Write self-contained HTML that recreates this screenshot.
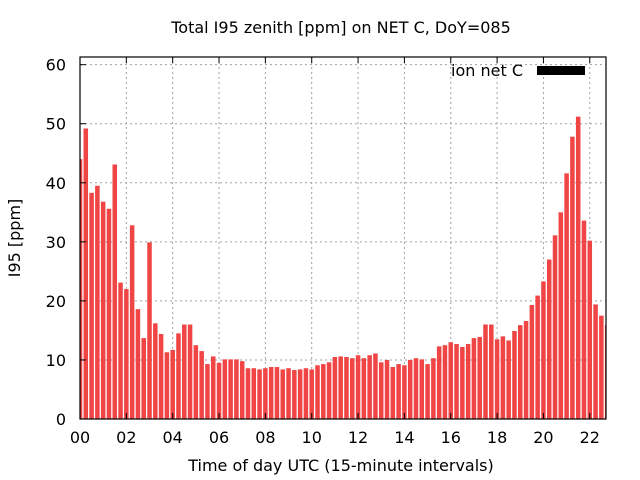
<!DOCTYPE html>
<html><head><meta charset="utf-8"><style>
body{margin:0;background:#fff;}
svg{display:block;font-family:"DejaVu Sans","Liberation Sans",sans-serif;}
</style></head><body>
<svg id="chart" width="640" height="480" viewBox="0 0 640 480">
<text x="341" y="33" text-anchor="middle" font-size="16">Total I95 zenith [ppm] on NET C, DoY=085</text>
<text transform="translate(20,238) rotate(-90)" text-anchor="middle" font-size="16">I95 [ppm]</text>
<text x="341" y="471" text-anchor="middle" font-size="16">Time of day UTC (15-minute intervals)</text>
<g id="grid"></g><g id="bars"></g><g id="axes"></g>
<rect x="80" y="57" width="526" height="362" fill="none" stroke="#000" stroke-width="1.2"/>
<text x="523" y="76" text-anchor="end" font-size="16">ion net C</text>
<rect x="537" y="66" width="48" height="9" fill="#000"/>
</svg>
<script>
const values=[44,49.2,38.3,39.5,36.8,35.6,43.1,23.1,22.0,32.8,18.6,13.7,29.9,16.2,14.4,11.3,11.7,14.5,16.0,16.0,12.5,11.5,9.3,10.6,9.5,10.1,10.1,10.1,9.8,8.6,8.6,8.4,8.6,8.8,8.8,8.4,8.6,8.3,8.4,8.6,8.4,9.1,9.3,9.6,10.5,10.6,10.5,10.3,10.8,10.3,10.8,11.1,9.6,10.0,8.8,9.3,9.1,10.0,10.3,10.1,9.3,10.3,12.3,12.5,13.0,12.7,12.2,12.7,13.7,13.9,16.0,16.0,13.5,14.0,13.3,14.9,15.9,16.6,19.3,20.9,23.3,27.0,31.1,35.0,41.6,47.8,51.2,33.6,30.2,19.4,17.5,15.9];
const yTicks=[0,10,20,30,40,50,60];
const xTicks=["00","02","04","06","08","10","12","14","16","18","20","22"];
const xMax=22.7, yMax=61.3;
const L=80,R=606,T=57,B=419;
const sx=h=>L+h/xMax*(R-L);
const sy=v=>B-v/yMax*(B-T);
const NS="http://www.w3.org/2000/svg";
function mk(tag,attrs,parent){const e=document.createElementNS(NS,tag);for(const k in attrs)e.setAttribute(k,attrs[k]);parent.appendChild(e);return e;}
const grid=document.getElementById('grid'),bars=document.getElementById('bars'),axes=document.getElementById('axes');
yTicks.forEach(v=>{
  const y=sy(v);
  if(v>0){const g=mk('line',{x1:L,x2:R,y1:y,y2:y,stroke:'#a0a0a0','stroke-dasharray':'2,3'},grid);
  
  }
  const t=mk('line',{x1:L,x2:L+6,y1:y,y2:y,stroke:'#000'},axes);
  
  
  const l=mk('text',{x:L-14,y:y+6,'text-anchor':'end','font-size':'16'},axes);
  l.textContent=v;
  
  
});
xTicks.forEach(s=>{
  const h=parseInt(s,10),x=sx(h);
  if(h>0){const g=mk('line',{x1:x,x2:x,y1:T,y2:B,stroke:'#a0a0a0','stroke-dasharray':'2,3'},grid);
  
  }
  const t=mk('line',{x1:x,x2:x,y1:B,y2:B-6,stroke:'#000'},axes);
  
  
  const t2=mk('line',{x1:x,x2:x,y1:T,y2:T+6,stroke:'#000'},axes);
  
  
  const l=mk('text',{x:x,y:B+24,'text-anchor':'middle','font-size':'16'},axes);
  l.textContent=s;
  
  
});
const bw=(sx(0.25)-sx(0))*0.78;
values.forEach((v,i)=>{
  const c=sx(i*0.25);
  let x0=Math.max(L,c-bw/2),x1=Math.min(R,c+bw/2);
  if(x1<=x0)return;
  const r=mk('rect',{x:x0,y:sy(v),width:x1-x0,height:B-sy(v),fill:'#f04545'},bars);
  
  
});
</script>
</body></html>
